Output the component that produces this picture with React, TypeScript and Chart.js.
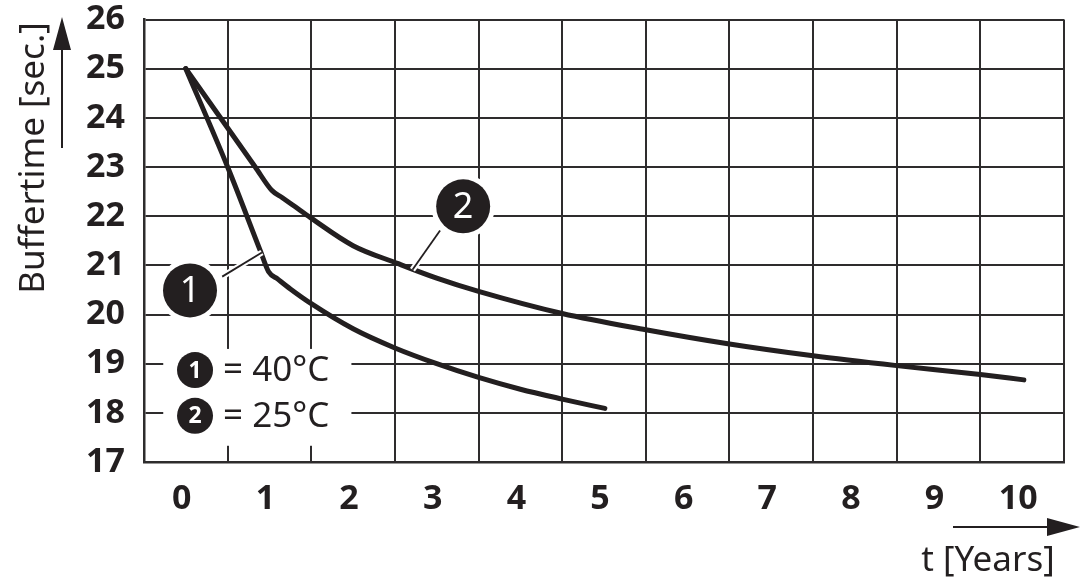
import React, { useEffect, useRef } from "react";
import { Chart, registerables } from "chart.js";

Chart.register(...registerables);

// ---- data ----
const yearsAt40 = [0, 0.5, 0.89, 0.99, 1.1, 1.25, 1.5, 2, 2.5, 3, 3.5, 4, 4.5, 5.01];
const bufferAt40 = [25, 23, 21.3, 20.87, 20.72, 20.52, 20.22, 19.71, 19.32, 19.0, 18.72, 18.48, 18.28, 18.09];

const yearsAt25 = [0, 0.83, 1.03, 1.15, 1.3, 1.49, 2.0, 2.53, 3, 3.5, 4.5, 5.5, 6.5, 7.5, 8.5, 9.5, 10.02];
const bufferAt25 = [25, 23, 22.52, 22.38, 22.2, 21.97, 21.4, 21.04, 20.74, 20.47, 20.02, 19.69, 19.4, 19.16, 18.96, 18.78, 18.67];

const xTickValues = [0, 1, 2, 3, 4, 5, 6, 7, 8, 9, 10];
const yTickValues = [17, 18, 19, 20, 21, 22, 23, 24, 25, 26];
const markerLabels = ["1", "2"];
const legendLabels = ["= 40°C", "= 25°C"];
const yTitle = "Buffertime [sec.]";
const xTitle = "t [Years]";

const INK = "#231f20";
const GRID = "#2e2c2d";
const FONT = "'Noto Sans', 'DejaVu Sans', sans-serif";

const overlayPlugin = {
  id: "overlay",
  beforeDatasetsDraw(chart: any) {
    const { ctx, scales } = chart;
    const x = scales.x, y = scales.y;
    // white legend box that interrupts the grid
    const x0 = x.getPixelForValue(-0.27), x1 = x.getPixelForValue(1.98);
    const y0 = y.getPixelForValue(19.3), y1 = y.getPixelForValue(17.33);
    ctx.save();
    ctx.fillStyle = "#ffffff";
    ctx.fillRect(x0, y0, x1 - x0, y1 - y0);
    // legend rows
    const rows = [18.87, 17.94];
    rows.forEach((v, i) => {
      const cx = x.getPixelForValue(0.11);
      const cy = y.getPixelForValue(v);
      ctx.beginPath();
      ctx.arc(cx, cy, 18, 0, Math.PI * 2);
      ctx.fillStyle = INK;
      ctx.fill();
      ctx.fillStyle = "#ffffff";
      ctx.font = `bold 23px ${FONT}`;
      ctx.textAlign = "center";
      ctx.textBaseline = "middle";
      ctx.fillText(markerLabels[i], cx, cy + 1);
      ctx.fillStyle = INK;
      ctx.font = `35px ${FONT}`;
      ctx.textAlign = "left";
      ctx.fillText(legendLabels[i], x.getPixelForValue(0.445), cy + 1);
    });
    ctx.restore();
  },
  afterDatasetsDraw(chart: any) {
    const { ctx, scales } = chart;
    const x = scales.x, y = scales.y;
    const markers = [
      { t: 0.05, v: 20.49, from: [0.435, 20.77], to: [0.91, 21.26] },
      { t: 3.316, v: 22.2, from: [3.04, 21.71], to: [2.71, 20.91] },
    ];
    ctx.save();
    markers.forEach((m, i) => {
      const ax = x.getPixelForValue(m.from[0]), ay = y.getPixelForValue(m.from[1]);
      const bx = x.getPixelForValue(m.to[0]), by = y.getPixelForValue(m.to[1]);
      ctx.lineCap = "butt";
      ctx.strokeStyle = "#ffffff";
      ctx.lineWidth = 6;
      ctx.beginPath();
      ctx.moveTo(ax, ay);
      ctx.lineTo(bx, by);
      ctx.stroke();
      ctx.strokeStyle = INK;
      ctx.lineWidth = 1.8;
      ctx.beginPath();
      ctx.moveTo(ax, ay);
      ctx.lineTo(bx, by);
      ctx.stroke();
      const cx = x.getPixelForValue(m.t), cy = y.getPixelForValue(m.v);
      ctx.beginPath();
      ctx.arc(cx, cy, 32, 0, Math.PI * 2);
      ctx.fillStyle = "#ffffff";
      ctx.fill();
      ctx.beginPath();
      ctx.arc(cx, cy, 27, 0, Math.PI * 2);
      ctx.fillStyle = INK;
      ctx.fill();
      ctx.fillStyle = "#ffffff";
      ctx.font = `36px ${FONT}`;
      ctx.textAlign = "center";
      ctx.textBaseline = "middle";
      ctx.fillText(markerLabels[i], cx, cy + 1);
    });
    ctx.restore();
  },
  afterDraw(chart: any) {
    const { ctx } = chart;
    ctx.save();
    ctx.strokeStyle = INK;
    ctx.fillStyle = INK;
    ctx.lineWidth = 2;
    // y arrow
    ctx.beginPath();
    ctx.moveTo(62, 148);
    ctx.lineTo(62, 45);
    ctx.stroke();
    ctx.beginPath();
    ctx.moveTo(62, 17);
    ctx.lineTo(71, 50);
    ctx.lineTo(53, 50);
    ctx.closePath();
    ctx.fill();
    // x arrow
    ctx.beginPath();
    ctx.moveTo(953, 527);
    ctx.lineTo(1052, 527);
    ctx.stroke();
    ctx.beginPath();
    ctx.moveTo(1080, 527);
    ctx.lineTo(1047, 518);
    ctx.lineTo(1047, 536);
    ctx.closePath();
    ctx.fill();
    // titles
    ctx.font = `35px ${FONT}`;
    ctx.textAlign = "center";
    ctx.textBaseline = "alphabetic";
    ctx.fillText(xTitle, 988, 571);
    ctx.translate(44, 158);
    ctx.rotate(-Math.PI / 2);
    ctx.fillText(yTitle, 0, 0);
    ctx.restore();
  },
};

export default function App() {
  const canvasRef = useRef<HTMLCanvasElement | null>(null);

  useEffect(() => {
    document.body.style.margin = "0";
    const canvas = canvasRef.current;
    if (!canvas) return;
    const chart = new Chart(canvas, {
      type: "line",
      data: {
        datasets: [
          {
            label: "40°C",
            data: yearsAt40.map((t, i) => ({ x: t, y: bufferAt40[i] })),
            borderColor: INK,
            borderWidth: 5,
            borderCapStyle: "round",
            borderJoinStyle: "round",
            pointRadius: 0,
            cubicInterpolationMode: "monotone",
            fill: false,
          },
          {
            label: "25°C",
            data: yearsAt25.map((t, i) => ({ x: t, y: bufferAt25[i] })),
            borderColor: INK,
            borderWidth: 5,
            borderCapStyle: "round",
            borderJoinStyle: "round",
            pointRadius: 0,
            cubicInterpolationMode: "monotone",
            fill: false,
          },
        ],
      },
      options: {
        responsive: false,
        animation: false,
        devicePixelRatio: 1,
        layout: { padding: { top: 19.5, right: 16, left: 0, bottom: 0 } },
        plugins: { legend: { display: false }, tooltip: { enabled: false } },
        scales: {
          x: {
            type: "linear",
            min: -0.5,
            max: 10.5,
            afterFit: (s: any) => {
              s.height = 118;
              s.paddingLeft = 0;
              s.paddingRight = 0;
            },
            ticks: {
              stepSize: 0.5,
              autoSkip: false,
              maxRotation: 0,
              labelOffset: -4,
              padding: 17,
              color: INK,
              font: { family: FONT, size: 34, weight: "bold" },
              callback: (v: any) => (xTickValues.includes(Number(v)) ? String(v) : ""),
            },
            grid: {
              drawTicks: false,
              lineWidth: 2,
              color: (c: any) =>
                c.tick && Number.isInteger(c.tick.value) ? "rgba(0,0,0,0)" : GRID,
            },
            border: { display: true, color: GRID, width: 2.5 },
          },
          y: {
            type: "linear",
            min: 17,
            max: 26,
            afterFit: (s: any) => {
              s.width = 144;
              s.paddingTop = 0;
              s.paddingBottom = 0;
            },
            ticks: {
              stepSize: 1,
              padding: 19,
              color: INK,
              font: { family: FONT, size: 34, weight: "bold" },
              callback: (v: any) => (yTickValues.includes(Number(v)) ? String(v) : ""),
            },
            grid: { drawTicks: false, lineWidth: 2, color: GRID },
            border: { display: true, color: GRID, width: 2.5 },
          },
        },
      },
      plugins: [overlayPlugin],
    } as any);
    return () => chart.destroy();
  }, []);

  return (
    <div style={{ width: 1080, height: 580, background: "#fff" }}>
      <canvas ref={canvasRef} width={1080} height={580} />
    </div>
  );
}
